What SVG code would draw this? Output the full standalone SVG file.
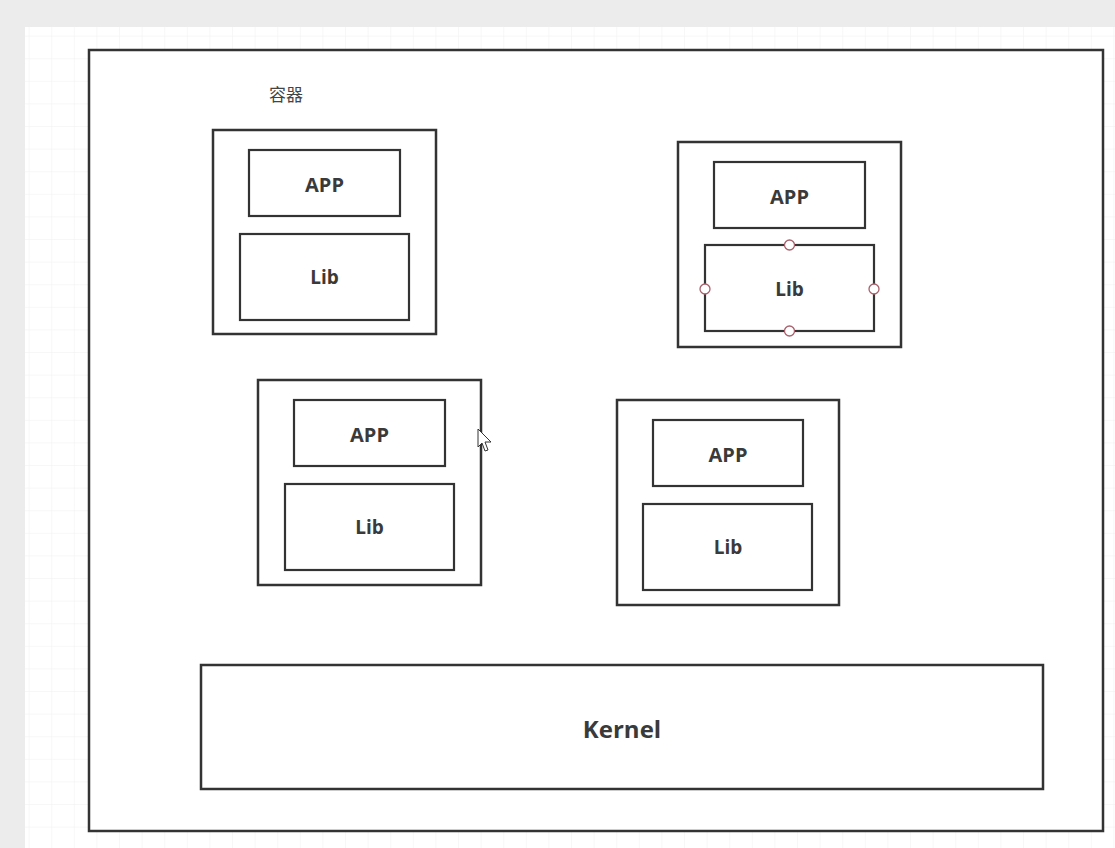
<svg xmlns="http://www.w3.org/2000/svg" width="1115" height="848" viewBox="0 0 1115 848">
<defs>
<pattern id="grid" x="7" y="14" width="22.6" height="22.6" patternUnits="userSpaceOnUse">
<path d="M22.6 0V22.6M0 22.6H22.6" fill="none" stroke="#efeff0" stroke-width="1"/>
</pattern>
<style>
.box{fill:#fff;stroke:#333;stroke-width:2.5}
.inner{fill:#fff;stroke:#333;stroke-width:2.2}
.lbl{font-family:"Open Sans","Liberation Sans",sans-serif;font-weight:bold;fill:#3a3a3a;text-anchor:middle;dominant-baseline:central}
.h{fill:#fff;stroke:#a8606c;stroke-width:1.3}
</style>
</defs>
<rect width="1115" height="848" fill="#ececed"/>
<rect x="25" y="27" width="1090" height="821" fill="#fff"/>
<rect x="25" y="27" width="1090" height="821" fill="url(#grid)"/>
<g id="host"><rect class="box" x="89" y="50" width="1014" height="781"/></g>
<text x="286" y="93" font-family="Noto Sans CJK SC, sans-serif" font-size="17" fill="#444" text-anchor="middle" dominant-baseline="central">容器</text>
<g id="c1">
<rect class="box" x="213" y="130" width="223" height="204"/>
<rect class="inner" x="249" y="150" width="151" height="66"/>
<text class="lbl" x="324.5" y="184" font-size="20">APP</text>
<rect class="inner" x="240" y="234" width="169" height="86"/>
<text class="lbl" x="324.5" y="277" font-size="19">Lib</text>
</g>
<g id="c2">
<rect class="box" x="678" y="142" width="223" height="205"/>
<rect class="inner" x="714" y="162" width="151" height="66"/>
<text class="lbl" x="789.5" y="196" font-size="20">APP</text>
<rect class="inner" x="705" y="245" width="169" height="86"/>
<text class="lbl" x="789.5" y="289" font-size="19">Lib</text>
<circle class="h" cx="789.5" cy="245" r="5"/>
<circle class="h" cx="789.5" cy="331" r="5"/>
<circle class="h" cx="705" cy="289" r="5"/>
<circle class="h" cx="874" cy="289" r="5"/>
</g>
<g id="c3">
<rect class="box" x="258" y="380" width="223" height="205"/>
<rect class="inner" x="294" y="400" width="151" height="66"/>
<text class="lbl" x="369.5" y="434" font-size="20">APP</text>
<rect class="inner" x="285" y="484" width="169" height="86"/>
<text class="lbl" x="369.5" y="527" font-size="19">Lib</text>
</g>
<g id="c4">
<rect class="box" x="617" y="400" width="222" height="205"/>
<rect class="inner" x="653" y="420" width="150" height="66"/>
<text class="lbl" x="728" y="454" font-size="20">APP</text>
<rect class="inner" x="643" y="504" width="169" height="86"/>
<text class="lbl" x="728" y="547" font-size="19">Lib</text>
</g>
<g id="kernel">
<rect class="box" x="201" y="665" width="842" height="124"/>
<text class="lbl" x="622" y="728" font-size="24">Kernel</text>
</g>
<g id="connectors"></g>
<path d="M478 429 L478 447 L482 443 L485 451 L488 450 L485 442 L491 442 Z" fill="#fff" stroke="#333" stroke-width="1"/>
</svg>
